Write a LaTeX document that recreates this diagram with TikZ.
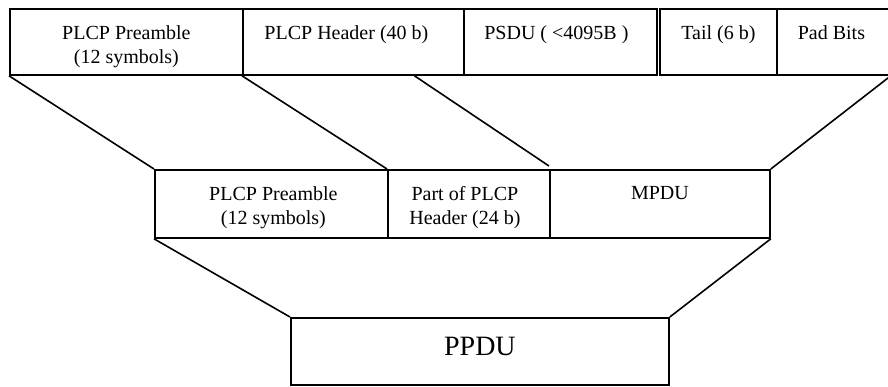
\documentclass[tikz,border=0pt]{standalone}
\usepackage{fontspec}
\setmainfont{Liberation Serif}
\usetikzlibrary{calc}
\begin{document}
\begin{tikzpicture}[x=0.5pt,y=-0.5pt,
  field/.style={draw, line width=0.9pt, inner sep=0pt, anchor=north west},
  lbl/.style={inner sep=0pt, anchor=north, align=center, font=\fontsize{10}{12}\selectfont},
  biglbl/.style={inner sep=0pt, anchor=north, font=\fontsize{14}{17}\selectfont},
  link/.style={line width=0.8pt}]
\useasboundingbox (0,0) rectangle (888,386);

% PLCP frame fields
\node[field, minimum width=116.5pt, minimum height=33pt] (pre)  at (9,8)   {};
\node[field, minimum width=110.5pt, minimum height=33pt] (hdr)  at (242,8) {};
\node[field, minimum width=96.5pt,  minimum height=33pt] (psdu) at (463,8) {};
\node[field, minimum width=58.5pt,  minimum height=33pt] (tail) at (659,8) {};
\node[field, minimum width=56.5pt,  minimum height=33pt] (pad)  at (776,8) {};

\node[lbl] (preT)  at ([yshift=-8.5pt]pre.north)  {PLCP Preamble\\(12 symbols)};
\node[lbl] (hdrT)  at ([xshift=-3.5pt,yshift=-8.5pt]hdr.north)  {PLCP Header (40 b)};
\node[lbl] (psduT) at ([xshift=-2pt,yshift=-8.5pt]psdu.north) {PSDU ( <4095B )};
\node[lbl] (tailT) at ([yshift=-8.5pt]tail.north) {Tail (6 b)};
\node[lbl] (padT)  at ([xshift=-1pt,yshift=-8.5pt]pad.north)  {Pad Bits};

% Middle row
\node[field, minimum width=116.5pt, minimum height=34pt] (mpre) at (154,169) {};
\node[field, minimum width=81pt,    minimum height=34pt] (mhdr) at (387,169) {};
\node[field, minimum width=110pt,   minimum height=34pt] (mpdu) at (549,169) {};

\node[lbl] (mpreT) at ([xshift=1pt,yshift=-8.5pt]mpre.north) {PLCP Preamble\\(12 symbols)};
\node[lbl] (mhdrT) at ([xshift=-2pt,yshift=-8.5pt]mhdr.north) {Part of PLCP\\Header (24 b)};
\node[lbl] (mpduT) at ([yshift=-8.5pt]mpdu.north) {MPDU};

% Bottom
\node[field, minimum width=189pt, minimum height=33.5pt] (ppdu) at (290,317) {};
\node[biglbl] (ppduT) at ([yshift=-10pt]ppdu.north) {PPDU};

% Mapping lines
\coordinate (hsplit) at ($(hdr.south west)!0.774!(hdr.south east)$);
\draw[link] (pre.south west) -- (mpre.north west);
\draw[link] (hdr.south west) -- (mhdr.north west);
\draw[link] (hsplit) -- ([yshift=1.5pt]mpdu.north west);
\draw[link] (pad.south east) -- (mpdu.north east);
\draw[link] (mpre.south west) -- (ppdu.north west);
\draw[link] (mpdu.south east) -- (ppdu.north east);
\end{tikzpicture}
\end{document}
